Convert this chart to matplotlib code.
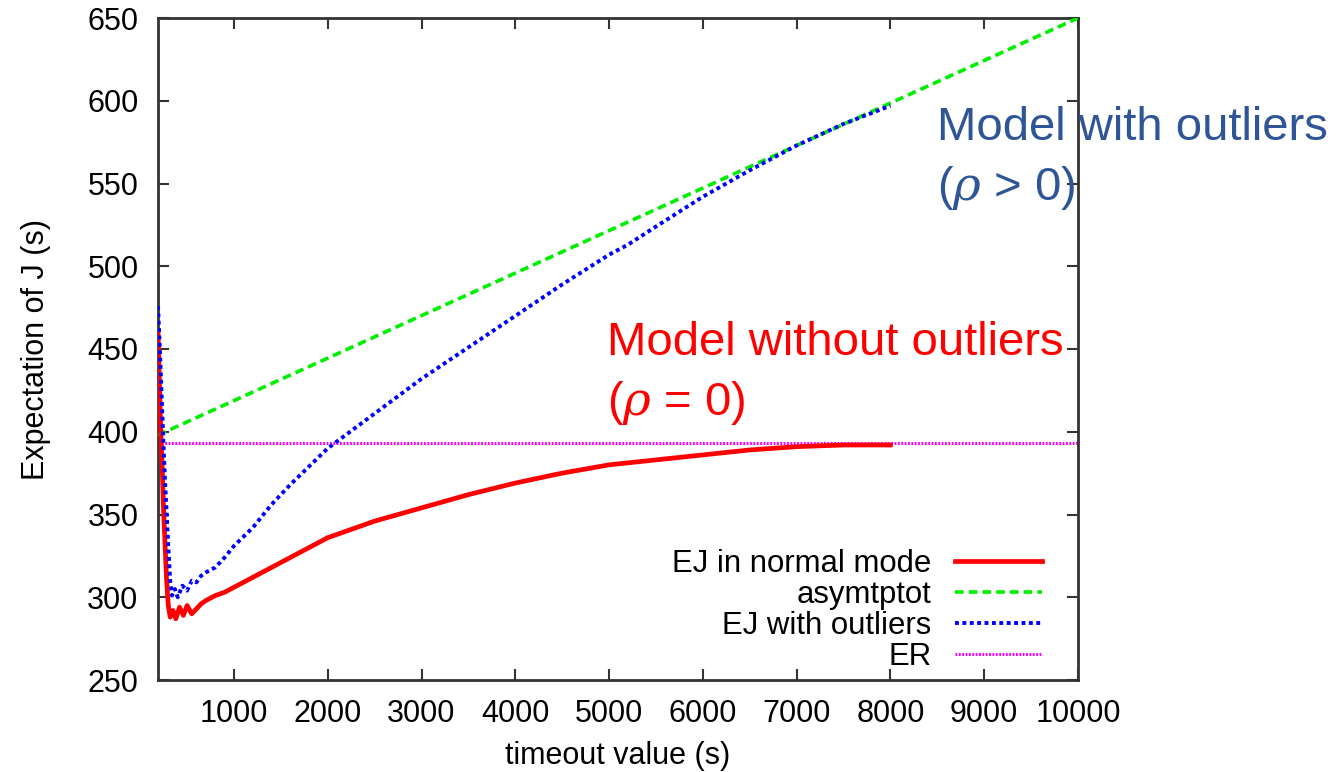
import matplotlib
matplotlib.use("Agg")
import matplotlib.pyplot as plt
from matplotlib.lines import Line2D

plt.rcParams['font.family'] = ['Liberation Sans', 'DejaVu Sans']
plt.rcParams['mathtext.fontset'] = 'custom'
plt.rcParams['mathtext.rm'] = 'Liberation Sans'
plt.rcParams['mathtext.it'] = 'DejaVu Serif:italic'

# ---- data ----
red_x = [190, 205, 220, 235, 250, 265, 282, 300, 320, 350, 380, 420, 460, 500, 550, 600, 650,
         700, 800, 900, 1000, 1200, 1400, 1600, 1800, 2000, 2200, 2500, 3000, 3500, 4000,
         4500, 5000, 5500, 6000, 6500, 7000, 7500, 8000]
red_y = [461, 430, 400, 378, 352, 332, 310, 295, 288, 292, 287, 294, 289, 295, 290, 293, 296,
         298, 301, 303, 306, 312, 318, 324, 330, 336, 340, 346, 354, 362, 369,
         375, 380, 383, 386, 389, 391, 392, 392]

blue_x = [190, 210, 230, 250, 265, 282, 300, 320, 340, 370, 400, 450, 500, 550, 600, 650, 700,
          800, 900, 1000, 1200, 1400, 1600, 1800, 2000, 2500, 3000, 3500, 4000, 4500, 5000,
          5200, 5500, 6000, 6500, 7000, 7500, 8000]
blue_y = [476, 450, 420, 390, 370, 351, 330, 310, 301, 305, 300, 307, 304, 310, 309, 313, 315,
          318, 324, 331, 342, 356, 368, 379, 390, 411, 432, 451, 470, 489, 507,
          513, 524, 542, 558, 573, 586, 597]

asym_x = [190, 10000]
asym_y = [398, 650]

er_x = [190, 10000]
er_y = [393, 393]

labels = ["EJ in normal mode", "asymtptot", "EJ with outliers", "ER"]
xticks = [1000, 2000, 3000, 4000, 5000, 6000, 7000, 8000, 9000, 10000]
yticks = [250, 300, 350, 400, 450, 500, 550, 600, 650]

W, H = 1343, 772
fig = plt.figure(figsize=(W / 100, H / 100), dpi=100)
ax = fig.add_axes([158 / W, 1 - 680 / H, (1078 - 158) / W, (680 - 18) / H])

c_red, c_green, c_blue, c_mag = '#ff0000', '#00ee00', '#0000ff', '#ff00ff'
ls_green = (0, (2.4, 1.4))
ls_blue = (0, (1.0, 0.9))
ls_mag = (0, (0.6, 0.5))
ax.plot(er_x, er_y, color=c_mag, lw=2.2, linestyle=ls_mag, zorder=2)
ax.plot(asym_x, asym_y, color=c_green, lw=2.6, linestyle=ls_green, zorder=3)
ax.plot(red_x, red_y, color=c_red, lw=3.4, zorder=4)
ax.plot(blue_x, blue_y, color=c_blue, lw=2.8, linestyle=ls_blue, zorder=5)

ax.set_xlim(190, 10000)
ax.set_ylim(250, 650)
ax.set_xticks(xticks)
ax.set_yticks(yticks)
ax.tick_params(direction='in', length=8, width=1.5, color='#333333', labelsize=22,
               top=True, right=True, pad=14)
for s in ax.spines.values():
    s.set_linewidth(2)
    s.set_color('#333333')

ax.set_xlabel("timeout value (s)", fontsize=22, labelpad=8)
ax.set_ylabel("Expectation of J (s)", fontsize=22, labelpad=26)

handles = [
    Line2D([], [], color=c_red, lw=3.4),
    Line2D([], [], color=c_green, lw=2.6, linestyle=ls_green),
    Line2D([], [], color=c_blue, lw=2.8, linestyle=ls_blue),
    Line2D([], [], color=c_mag, lw=2.2, linestyle=ls_mag),
]
ax.legend(handles, labels, loc='lower right', markerfirst=False, frameon=False,
          fontsize=22.4, handlelength=2.8, handletextpad=0.75, labelspacing=0.03,
          borderpad=0, borderaxespad=0,
          bbox_to_anchor=(1042 / W, 1 - 672 / H), bbox_transform=fig.transFigure)

fs_ann = 34
fig.text(937 / W, 1 - 140 / H, "Model with outliers", color='#2f5597', fontsize=fs_ann,
         ha='left', va='baseline')
fig.text(937 / W, 1 - 200 / H, r"($\rho$ > 0)", color='#2f5597', fontsize=fs_ann,
         ha='left', va='baseline')
fig.text(607 / W, 1 - 355 / H, "Model without outliers", color='#ff0000', fontsize=fs_ann,
         ha='left', va='baseline')
fig.text(607 / W, 1 - 415 / H, r"($\rho$ = 0)", color='#ff0000', fontsize=fs_ann,
         ha='left', va='baseline')

fig.savefig("out.png", dpi=100)
